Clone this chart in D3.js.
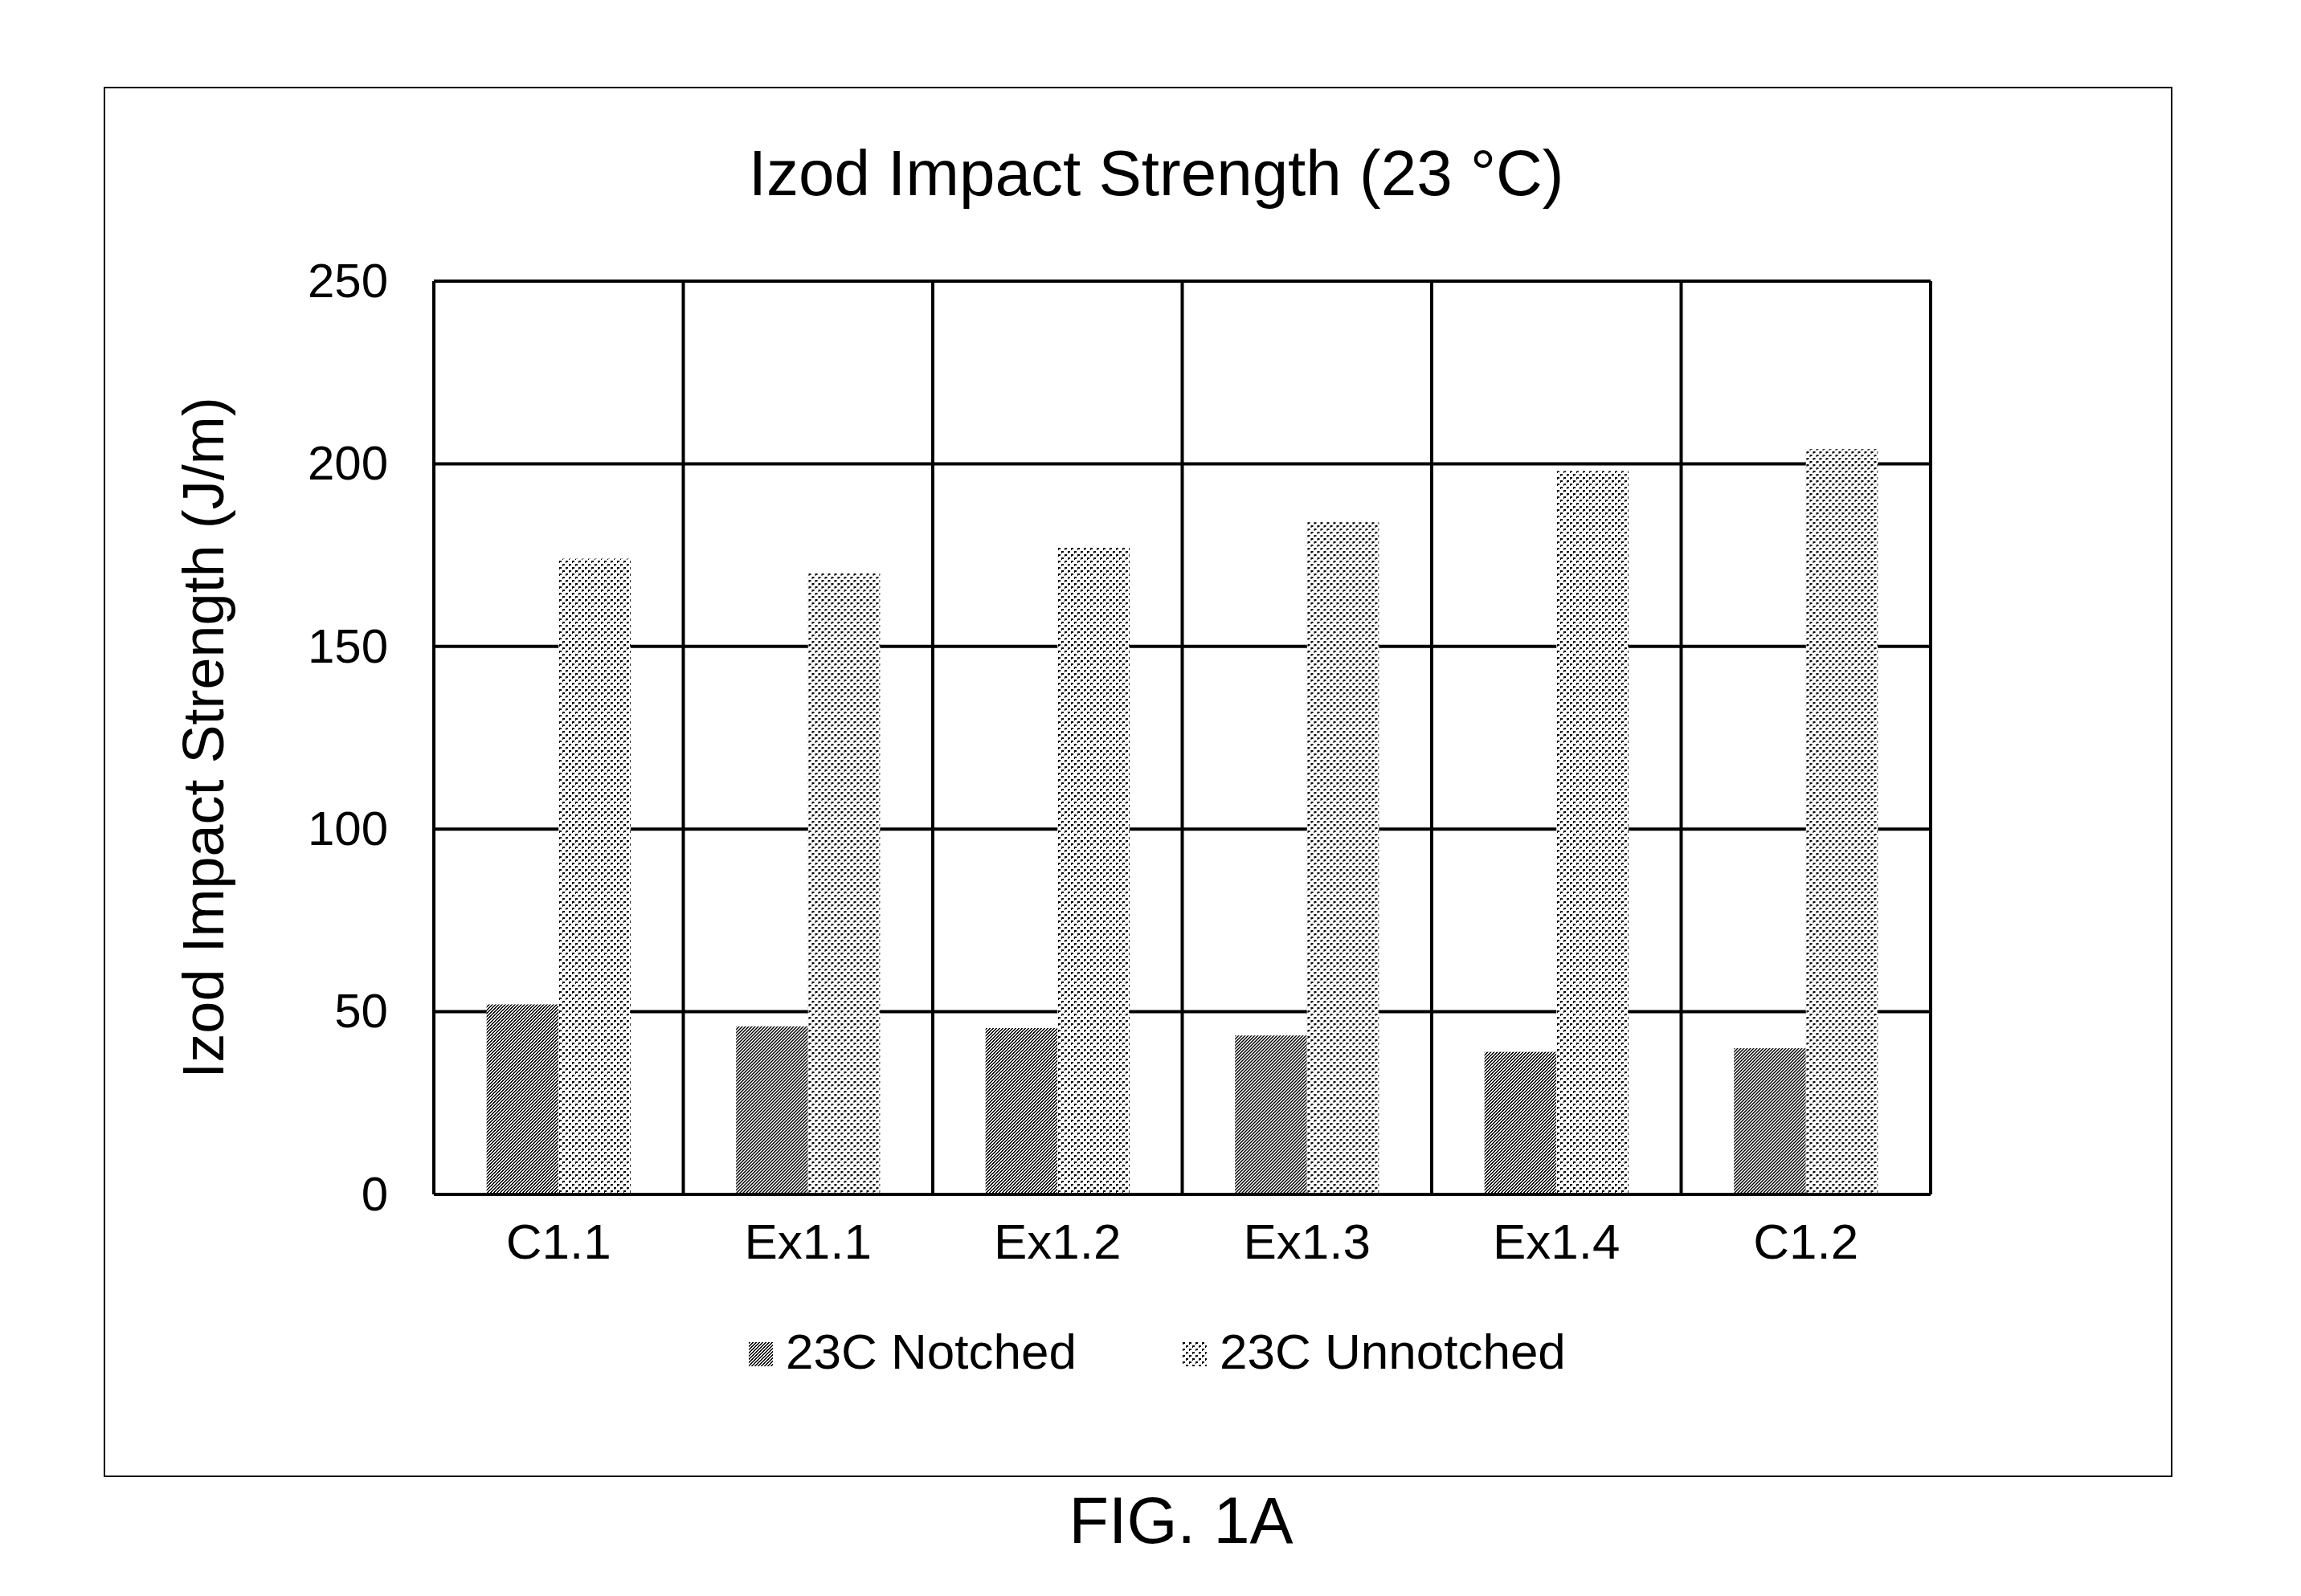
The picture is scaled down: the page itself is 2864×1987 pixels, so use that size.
<!DOCTYPE html>
<html>
<head>
<meta charset="utf-8">
<script src="https://cdn.jsdelivr.net/npm/d3@7"></script>
<style>
  html, body { margin: 0; padding: 0; background: #fff; }
  svg { display: block; font-family: "Liberation Sans", Arial, sans-serif; }
</style>
</head>
<body>
<div id="chart"></div>
<script>
// Chart data
const categories = ['C1.1', 'Ex1.1', 'Ex1.2', 'Ex1.3', 'Ex1.4', 'C1.2'];
const seriesNames = ['23C Notched', '23C Unnotched'];
const notched = [52, 46, 45.5, 43.5, 39, 40];
const unnotched = [174, 170, 177, 184, 198, 204];
const yTicks = [0, 50, 100, 150, 200, 250];

const chartTitle = 'Izod Impact Strength (23 °C)';
const yTitle = 'Izod Impact Strength (J/m)';
const figLabel = 'FIG. 1A';

// Dimensions
const width = 2864, height = 1987;
const margin = { top: 350, right: width - 2403, bottom: height - 1487, left: 540 };
const innerW = width - margin.left - margin.right;
const innerH = height - margin.top - margin.bottom;

const svg = d3.select('#chart')
  .append('svg')
    .attr('width', width)
    .attr('height', height)
    .attr('viewBox', `0 0 ${width} ${height}`);

// Fill patterns (pixel style like the original)
const defs = svg.append('defs');

const hatch = defs.append('pattern')
  .attr('id', 'hatch')
  .attr('patternUnits', 'userSpaceOnUse')
  .attr('width', 4).attr('height', 4);
hatch.append('rect').attr('width', 4).attr('height', 4).attr('fill', '#fff');
d3.range(16).forEach(i => {
  const px = i % 4, py = Math.floor(i / 4);
  if ((px + py) % 4 < 2) {
    hatch.append('rect').attr('x', px).attr('y', py).attr('width', 1).attr('height', 1)
      .attr('fill', '#000').attr('shape-rendering', 'crispEdges');
  }
});

const dots = defs.append('pattern')
  .attr('id', 'dots')
  .attr('patternUnits', 'userSpaceOnUse')
  .attr('width', 8).attr('height', 8);
dots.append('rect').attr('width', 8).attr('height', 8).attr('fill', '#fff');
[[0, 0], [4, 4]].forEach(([dx, dy]) => {
  dots.append('path')
    .attr('d', `M${dx},${dy}h3v2h-2v1h-1z`)
    .attr('fill', '#000')
    .attr('shape-rendering', 'crispEdges');
});

const fills = ['url(#hatch)', 'url(#dots)'];

// Outer frame
svg.append('rect')
  .attr('x', 130).attr('y', 109)
  .attr('width', 2703 - 130).attr('height', 1838 - 109)
  .attr('fill', 'none').attr('stroke', '#000').attr('stroke-width', 2);

// Title
svg.append('text')
  .attr('x', 1439).attr('y', 243)
  .attr('text-anchor', 'middle')
  .attr('font-size', 80)
  .text(chartTitle);

const g = svg.append('g')
  .attr('transform', `translate(${margin.left}, ${margin.top})`);

// Scales & Axis
const x0 = d3.scaleBand()
  .domain(categories)
  .range([0, innerW])
  .padding(0);

const groupW = x0.bandwidth() * 0.577;
const x1 = d3.scaleBand()
  .domain(seriesNames)
  .range([(x0.bandwidth() - groupW) / 2, (x0.bandwidth() + groupW) / 2])
  .padding(0);

const y = d3.scaleLinear()
  .domain([0, 250])
  .range([innerH, 0]);

// Horizontal gridlines
g.append('g')
  .selectAll('line')
  .data(yTicks)
  .join('line')
    .attr('x1', 0).attr('x2', innerW)
    .attr('y1', d => y(d)).attr('y2', d => y(d))
    .attr('stroke', '#000').attr('stroke-width', 4);

// Vertical gridlines at category boundaries
g.append('g')
  .selectAll('line')
  .data(d3.range(categories.length + 1))
  .join('line')
    .attr('x1', i => i * x0.step()).attr('x2', i => i * x0.step())
    .attr('y1', 0).attr('y2', innerH)
    .attr('stroke', '#000').attr('stroke-width', 4);

// Bars
const rows = categories.map((c, i) => ({ cat: c, values: [notched[i], unnotched[i]] }));

g.append('g')
  .selectAll('g')
  .data(rows)
  .join('g')
    .attr('transform', d => `translate(${x0(d.cat)}, 0)`)
  .selectAll('rect')
  .data(d => d.values.map((v, k) => ({ key: seriesNames[k], value: v, k })))
  .join('rect')
    .attr('x', d => x1(d.key))
    .attr('width', x1.bandwidth())
    .attr('y', d => y(d.value))
    .attr('height', d => y(0) - y(d.value))
    .attr('fill', d => fills[d.k]);

// Baseline redrawn on top
g.append('line')
  .attr('x1', 0).attr('x2', innerW)
  .attr('y1', y(0)).attr('y2', y(0))
  .attr('stroke', '#000').attr('stroke-width', 4);

// Y axis labels
const yAxis = g.append('g')
  .attr('transform', 'translate(-57, 0)')
  .call(d3.axisLeft(y).tickValues(yTicks).tickSize(0).tickPadding(0));
yAxis.select('.domain').remove();
yAxis.selectAll('text')
  .attr('font-family', '"Liberation Sans", Arial, sans-serif')
  .attr('font-size', 60)
  .attr('fill', '#000');

// X axis labels
const xAxis = g.append('g')
  .attr('transform', `translate(0, ${innerH})`)
  .call(d3.axisBottom(x0).tickSize(0).tickPadding(0));
xAxis.select('.domain').remove();
xAxis.selectAll('text')
  .attr('font-family', '"Liberation Sans", Arial, sans-serif')
  .attr('font-size', 62)
  .attr('fill', '#000')
  .attr('dy', null)
  .attr('y', 80);

// Y title
svg.append('text')
  .attr('transform', `translate(278, ${margin.top + innerH / 2}) rotate(-90)`)
  .attr('text-anchor', 'middle')
  .attr('font-size', 72)
  .text(yTitle);

// Legend
const legend = svg.append('g')
  .selectAll('g')
  .data(seriesNames)
  .join('g')
    .attr('transform', (d, i) => `translate(${932 + i * 540}, 1671)`);

legend.append('rect')
  .attr('width', 30).attr('height', 30)
  .attr('fill', (d, i) => fills[i]);

legend.append('text')
  .attr('x', 46).attr('y', 33)
  .attr('font-size', 62)
  .text(d => d);

// Figure label
svg.append('text')
  .attr('x', 1470).attr('y', 1921)
  .attr('text-anchor', 'middle')
  .attr('font-size', 81)
  .text(figLabel);
</script>
</body>
</html>
